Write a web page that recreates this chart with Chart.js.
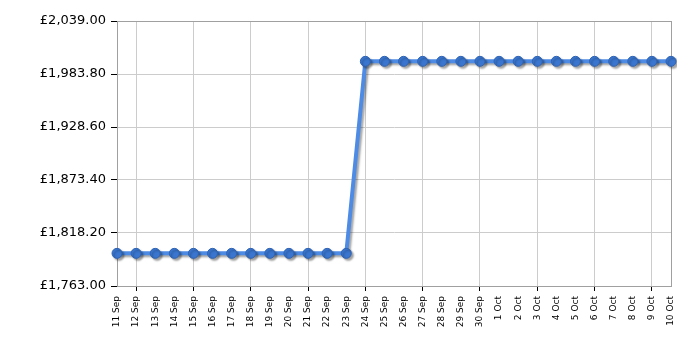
<!DOCTYPE html>
<html>
<head>
<meta charset="utf-8">
<script src="https://cdn.jsdelivr.net/npm/chart.js@4/dist/chart.umd.min.js"></script>
<style>
  html, body { margin: 0; padding: 0; background: #fff; }
  #wrap { width: 700px; height: 350px; }
</style>
</head>
<body>
<div id="wrap"><canvas id="chart"></canvas></div>
<script>
const dates = ['11 Sep', '12 Sep', '13 Sep', '14 Sep', '15 Sep', '16 Sep', '17 Sep', '18 Sep', '19 Sep', '20 Sep',
  '21 Sep', '22 Sep', '23 Sep', '24 Sep', '25 Sep', '26 Sep', '27 Sep', '28 Sep', '29 Sep', '30 Sep',
  '1 Oct', '2 Oct', '3 Oct', '4 Oct', '5 Oct', '6 Oct', '7 Oct', '8 Oct', '9 Oct', '10 Oct'];
const prices = [1797, 1797, 1797, 1797, 1797, 1797, 1797, 1797, 1797, 1797,
  1797, 1797, 1797, 1997, 1997, 1997, 1997, 1997, 1997, 1997,
  1997, 1997, 1997, 1997, 1997, 1997, 1997, 1997, 1997, 1997];
const yTicks = [1763.0, 1818.2, 1873.4, 1928.6, 1983.8, 2039.0];

const money = (v) => '£' + v.toLocaleString('en-GB', { minimumFractionDigits: 2, maximumFractionDigits: 2 });

// grid line every third label, starting at 12 Sep
const isGridTick = (i) => i % 3 === 1;

const shadowPlugin = {
  id: 'shadow',
  beforeDatasetDraw(chart) {
    const ctx = chart.ctx;
    ctx.save();
    ctx.shadowColor = 'rgba(0,0,0,0.35)';
    ctx.shadowOffsetX = 2;
    ctx.shadowOffsetY = 2;
    ctx.shadowBlur = 2;
  },
  afterDatasetDraw(chart) {
    chart.ctx.restore();
  }
};

const frame = {
  id: 'frame',
  beforeDatasetsDraw(chart) {
    const { ctx, chartArea: a } = chart;
    ctx.save();
    ctx.strokeStyle = '#a0a0a0';
    ctx.lineWidth = 1;
    ctx.strokeRect(a.left + 0.5, a.top + 0.5, a.right - a.left, a.bottom - a.top);
    ctx.restore();
  }
};

new Chart(document.getElementById('chart'), {
  type: 'line',
  data: {
    labels: dates,
    datasets: [{
      data: prices,
      borderColor: '#4d8be4',
      borderWidth: 4,
      pointRadius: 5,
      pointBackgroundColor: '#3a76cf',
      pointBorderColor: '#2f63b3',
      pointBorderWidth: 1,
      tension: 0
    }]
  },
  options: {
    responsive: true,
    maintainAspectRatio: false,
    animation: false,
    layout: { padding: { top: 21, right: 29, left: 0, bottom: 0 } },
    plugins: { legend: { display: false }, tooltip: { enabled: false } },
    scales: {
      x: {
        offset: false,
        grid: {
          color: (c) => isGridTick(c.index) ? '#cccccc' : 'rgba(0,0,0,0)',
          tickColor: (c) => isGridTick(c.index) ? '#000000' : 'rgba(0,0,0,0)',
          tickLength: 5
        },
        border: { color: '#a0a0a0' },
        ticks: {
          autoSkip: false,
          maxRotation: 90,
          minRotation: 90,
          padding: 5,
          color: '#000',
          font: { family: 'DejaVu Sans', size: 9 }
        },
        afterFit: (s) => { s.height = 64; }
      },
      y: {
        min: 1763,
        max: 2039,
        afterBuildTicks: (s) => { s.ticks = yTicks.map(v => ({ value: v })); },
        grid: { color: '#cccccc', tickColor: '#000000', tickLength: 6 },
        border: { color: '#a0a0a0' },
        ticks: {
          padding: 5,
          color: '#000',
          font: { family: 'DejaVu Sans', size: 13 },
          callback: (v) => money(v)
        },
        afterFit: (s) => { s.width = 117; }
      }
    }
  },
  plugins: [frame, shadowPlugin]
});
</script>
</body>
</html>
